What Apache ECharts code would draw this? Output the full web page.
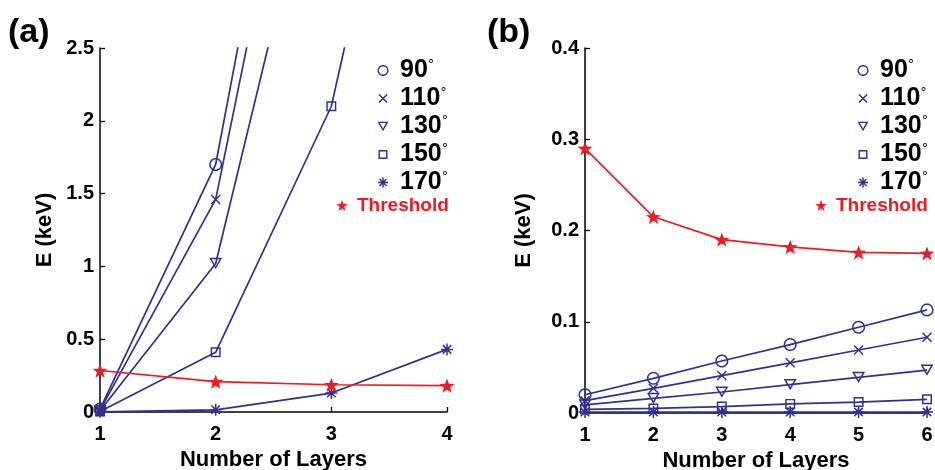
<!DOCTYPE html>
<html><head><meta charset="utf-8">
<script src="https://cdn.jsdelivr.net/npm/echarts@6/dist/echarts.min.js"></script>
<style>html,body{margin:0;padding:0;background:#fff}#c{width:935px;height:470px}</style>
</head><body><div id="c"></div>
<script>
// ---------- data ----------
const layersA = [1, 2, 3, 4];
const layersB = [1, 2, 3, 4, 5, 6];
const angleNames = ['90°', '110°', '130°', '150°', '170°'];
const thresholdName = 'Threshold';
const panelLabels = ['(a)', '(b)'];
const xAxisName = 'Number of Layers';
const yAxisName = 'E (keV)';
const yRangeA = [0, 2.5, 0.5];
const yRangeB = [0, 0.4, 0.1];

// panel (a)
const a90 = [0.02, 1.70, 5.89];
const a110 = [0.013, 1.46, 5.35];
const a130 = [0.009, 1.02, 4.30];
const a150 = [0.004, 0.41, 2.10, 5.64];
const a170 = [0.001, 0.015, 0.13, 0.43];
const aThreshold = [0.285, 0.208, 0.187, 0.181];

// panel (b)
const b90 = [0.020, 0.038, 0.057, 0.075, 0.094, 0.113];
const b110 = [0.0135, 0.027, 0.041, 0.055, 0.069, 0.083];
const b130 = [0.009, 0.016, 0.023, 0.031, 0.039, 0.047];
const b150 = [0.004, 0.005, 0.007, 0.010, 0.012, 0.015];
const b170 = [0.001, 0.001, 0.001, 0.001, 0.001, 0.001];
const bThreshold = [0.290, 0.215, 0.190, 0.182, 0.176, 0.175];

const seriesA = [a90, a110, a130, a150, a170];
const seriesB = [b90, b110, b130, b150, b170];

// ---------- styling ----------
const FONT = '"Liberation Sans", Arial, Helvetica, sans-serif';
const BLUE = '#2E3192';
const RED = '#ED1C24';

function poly(pts) { return 'M' + pts.map(p => p[0].toFixed(3) + ' ' + p[1].toFixed(3)).join(' L') + ' Z'; }
function circPts(r, n, rev) {
  const pts = [];
  for (let i = 0; i < n; i++) { const a = (rev ? -1 : 1) * i * 2 * Math.PI / n; pts.push([10 + r * Math.cos(a), 10 + r * Math.sin(a)]); }
  return pts;
}
function ring(t) { return poly(circPts(10, 48, false)) + ' ' + poly(circPts(10 - t, 48, true)); }
function square(t) { return poly([[0,0],[20,0],[20,20],[0,20]]) + ' ' + poly([[t,t],[t,20-t],[20-t,20-t],[20-t,t]]); }
function triDown(t) {
  const h = 17.32, y0 = 10 - h / 2;
  const v = [[0, y0], [20, y0], [10, y0 + h]];
  const c = [10, y0 + h / 3], r = h / 3, k = (r - t) / r;
  const inner = v.map(p => [c[0] + k * (p[0] - c[0]), c[1] + k * (p[1] - c[1])]).reverse();
  return poly(v) + ' ' + poly(inner);
}
function bars(angs, r, h) {
  return angs.map(deg => {
    const a = deg * Math.PI / 180, d = [Math.cos(a), Math.sin(a)], n = [-Math.sin(a) * h, Math.cos(a) * h];
    return poly([[10 - d[0]*r + n[0], 10 - d[1]*r + n[1]], [10 + d[0]*r + n[0], 10 + d[1]*r + n[1]],
                 [10 + d[0]*r - n[0], 10 + d[1]*r - n[1]], [10 - d[0]*r - n[0], 10 - d[1]*r - n[1]]]);
  }).join(' ');
}
function star() {
  const pts = [];
  for (let i = 0; i < 10; i++) { const r = i % 2 === 0 ? 10 : 4.1; const a = -Math.PI / 2 + i * Math.PI / 5; pts.push([10 + r * Math.cos(a), 10.9 + r * Math.sin(a)]); }
  return poly(pts);
}
function pad(path, frac) {
  const P = 10 / frac, lo = (10 - P).toFixed(2), hi = (10 + P).toFixed(2);
  return path + ' M' + lo + ' ' + lo + ' L' + lo + ' ' + lo + ' M' + hi + ' ' + hi + ' L' + hi + ' ' + hi;
}

const markers = [
  { sym: ring(2.3), size: 13, leg: pad(ring(2.5), 11 / 12) },
  { sym: bars([45, 135], 14.14, 1.6), size: 10, leg: pad(bars([45, 135], 14.14, 1.9), 8 / 12) },
  { sym: triDown(2.3), size: 13, leg: pad(triDown(2.5), 11 / 12) },
  { sym: square(2.9), size: 10, leg: pad(square(3.1), 9 / 12) },
  { sym: bars([0, 45, 90, 135], 10, 1.25), size: 12, leg: pad(bars([0, 45, 90, 135], 10, 1.45), 10 / 12) }
];
const starSym = star();
const starLeg = pad(star(), 12 / 12);

function lineSeries(name, xs, ys, axis, color, symPath, size) {
  return {
    type: 'line', name: name, xAxisIndex: axis, yAxisIndex: axis,
    data: ys.map((y, k) => [xs[k], y]),
    symbol: 'path://' + symPath, symbolSize: size, symbolKeepAspect: true, showAllSymbol: true,
    lineStyle: { color: color, width: 1.7 }, itemStyle: { color: color, borderWidth: 0 },
    emphasis: { disabled: true }, clip: true, animation: false
  };
}

const series = [];
seriesA.forEach((ys, i) => series.push(lineSeries(angleNames[i], layersA, ys, 0, BLUE, markers[i].sym, markers[i].size)));
series.push(lineSeries(thresholdName, layersA, aThreshold, 0, RED, starSym, 15));
seriesB.forEach((ys, i) => series.push(lineSeries(angleNames[i], layersB, ys, 1, BLUE, markers[i].sym, markers[i].size)));
series.push(lineSeries(thresholdName, layersB, bThreshold, 1, RED, starSym, 15));

function xAxisCfg(gridIndex, xs) {
  return {
    type: 'value', gridIndex: gridIndex, min: xs[0], max: xs[xs.length - 1], interval: 1,
    axisLine: { show: true, onZero: false, lineStyle: { color: '#000', width: 1.5 } },
    axisTick: { show: true, inside: true, length: 5, lineStyle: { color: '#000', width: 1.3 } },
    axisLabel: { color: '#000', fontSize: 20, fontWeight: 'bold', fontFamily: FONT, margin: 12 },
    splitLine: { show: false },
    name: xAxisName, nameLocation: 'middle', nameGap: 34,
    nameTextStyle: { color: '#000', fontSize: 22, fontWeight: 'bold', fontFamily: FONT }
  };
}
function yAxisCfg(gridIndex, rng, gap) {
  return {
    type: 'value', gridIndex: gridIndex, min: rng[0], max: rng[1], interval: rng[2],
    axisLine: { show: true, onZero: false, lineStyle: { color: '#000', width: 1.5 } },
    axisTick: { show: true, inside: true, length: 5, lineStyle: { color: '#000', width: 1.3 } },
    axisLabel: { color: '#000', fontSize: 20, fontWeight: 'bold', fontFamily: FONT, margin: 6 },
    splitLine: { show: false },
    name: yAxisName, nameLocation: 'middle', nameGap: gap,
    nameTextStyle: { color: '#000', fontSize: 22, fontWeight: 'bold', fontFamily: FONT }
  };
}

const richDeg = {
  n: { fontSize: 25, fontWeight: 'bold', fontFamily: FONT, color: '#000', lineHeight: 24 },
  d: { fontSize: 13, fontFamily: '"DejaVu Sans", sans-serif', color: '#000', verticalAlign: 'top', lineHeight: 12 }
};
function degFmt(name) { return '{n|' + name.replace('°', '') + '}{d|°}'; }

function angleLegend(left) {
  return {
    orient: 'vertical', left: left, top: 58, itemWidth: 24, itemHeight: 12, itemGap: 3,
    selectedMode: false, padding: 0,
    data: angleNames.map((n, i) => ({ name: n, icon: 'path://' + markers[i].leg })),
    formatter: degFmt, textStyle: { rich: richDeg }
  };
}
function thrLegend(left) {
  return {
    orient: 'vertical', left: left, top: 196, itemWidth: 20, itemHeight: 12, selectedMode: false, padding: 0,
    data: [{ name: thresholdName, icon: 'path://' + starLeg }],
    textStyle: { color: RED, fontSize: 19, fontWeight: 'bold', fontFamily: FONT }
  };
}

const chart = echarts.init(document.getElementById('c'), null, { renderer: 'canvas' });
chart.setOption({
  backgroundColor: '#fff',
  animation: false,
  grid: [
    { left: 100, right: 488, top: 48, bottom: 58, containLabel: false, outerBoundsMode: 'none' },
    { left: 585, right: 8, top: 48, bottom: 57, containLabel: false, outerBoundsMode: 'none' }
  ],
  xAxis: [xAxisCfg(0, layersA), xAxisCfg(1, layersB)],
  yAxis: [yAxisCfg(0, yRangeA, 44), yAxisCfg(1, yRangeB, 50)],
  legend: [angleLegend(377), thrLegend(336), angleLegend(857), thrLegend(815)],
  graphic: [
    { type: 'text', left: 8, top: 16, style: { text: panelLabels[0], font: 'bold 34px ' + FONT, fill: '#000' } },
    { type: 'text', left: 487, top: 16, style: { text: panelLabels[1], font: 'bold 34px ' + FONT, fill: '#000' } }
  ],
  series: series
});
</script>
</body></html>
